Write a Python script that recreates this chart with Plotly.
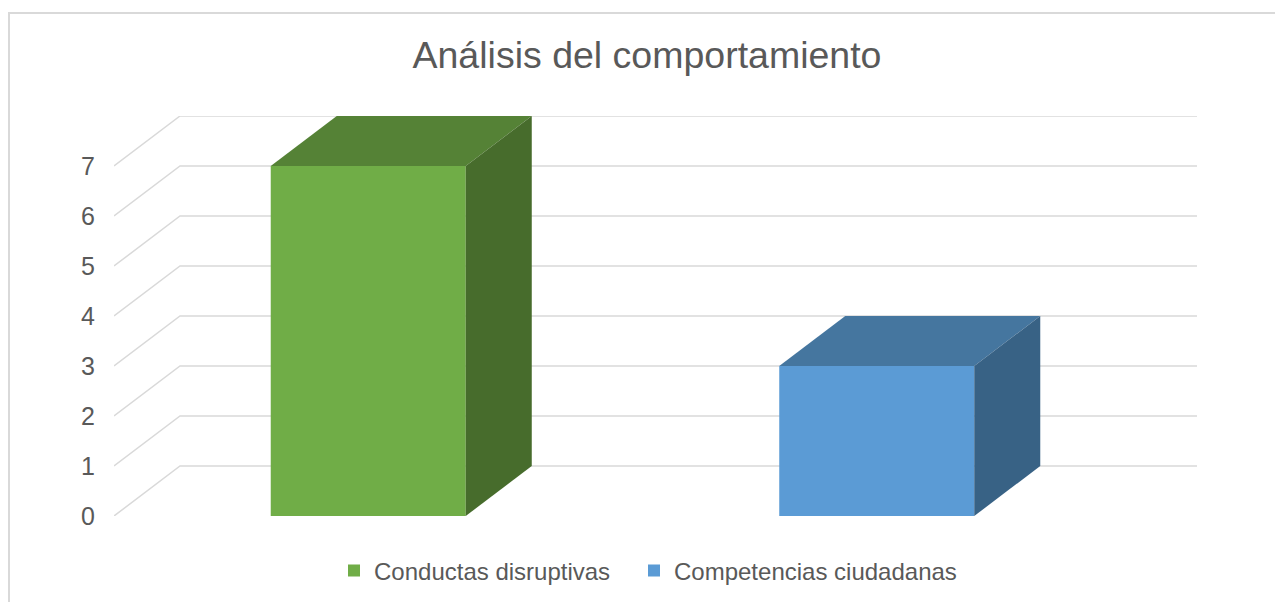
import plotly.graph_objects as go

# ---- data ----
categories = ["Conductas disruptivas", "Competencias ciudadanas"]
values = [7, 3]
tick_values = [0, 1, 2, 3, 4, 5, 6, 7]

# ---- style ----
front_colors = ["#70AD47", "#5B9BD5"]
top_colors = ["#558236", "#45769F"]
side_colors = ["#476C2C", "#386285"]
grid_color = "#D9D9D9"
text_color = "#595959"

bar_w = 0.3835          # bar width in category units
dx = 0.1298             # depth offset in category units
dy = 1.0                # depth offset in value units

fig = go.Figure()

# back wall + side-wall gridlines
gx, gy = [], []
for t in tick_values:
    gx += [-0.5, -0.5 + dx, 1.5 + dx, None]
    gy += [t, t + dy, t + dy, None]
fig.add_trace(go.Scatter(x=gx, y=gy, mode="lines",
                         line=dict(color=grid_color, width=1.5),
                         hoverinfo="skip", showlegend=False, cliponaxis=False))

# 3D bars
for i, (cat, v) in enumerate(zip(categories, values)):
    l, r = i - bar_w / 2, i + bar_w / 2
    # front
    fig.add_trace(go.Scatter(x=[l, r, r, l, l], y=[0, 0, v, v, 0], fill="toself",
                             fillcolor=front_colors[i], mode="lines", line=dict(width=0),
                             showlegend=False, hoverinfo="skip", cliponaxis=False))
    # top
    fig.add_trace(go.Scatter(x=[l, r, r + dx, l + dx, l], y=[v, v, v + dy, v + dy, v],
                             fill="toself", fillcolor=top_colors[i], mode="lines",
                             line=dict(width=0), showlegend=False, hoverinfo="skip",
                             cliponaxis=False))
    # side
    fig.add_trace(go.Scatter(x=[r, r + dx, r + dx, r, r], y=[0, dy, v + dy, v, 0],
                             fill="toself", fillcolor=side_colors[i], mode="lines",
                             line=dict(width=0), showlegend=False, hoverinfo="skip",
                             cliponaxis=False))

# legend entries
legend_widths = [255, None]
for i, cat in enumerate(categories):
    fig.add_trace(go.Scatter(x=[None], y=[None], mode="markers", name=cat,
                             legendwidth=legend_widths[i],
                             marker=dict(symbol="square", size=12, color=front_colors[i])))

# page has an 8px body margin: figure is offset by 8px inside the window
OFF = 8
W, H = 1283 - OFF, 602 - OFF
ml, mt = 114 - OFF, 116 - OFF
mr = W - (1197 - OFF)
mb = H - (516 - OFF)
pw, ph = W - ml - mr, H - mt - mb


def fx(px):
    return (px - OFF - ml) / pw


def fy(py):
    return (H - mb - (py - OFF)) / ph


fig.update_layout(
    width=W, height=H,
    margin=dict(l=ml, r=mr, t=mt, b=mb, autoexpand=False),
    paper_bgcolor="white", plot_bgcolor="white",
    font=dict(family="Liberation Sans, Arial, sans-serif", color=text_color, size=24),
    title=dict(text="Análisis del comportamiento", x=(647 - OFF) / W, xanchor="center",
               y=1 - (55 - OFF) / H, yanchor="middle",
               font=dict(size=37.5, color=text_color)),
    xaxis=dict(range=[-0.5, 1.5 + dx], showgrid=False, zeroline=False,
               showticklabels=False, showline=False, fixedrange=True),
    yaxis=dict(range=[0, 8], tickvals=tick_values, ticktext=[str(t) for t in tick_values],
               showgrid=False, zeroline=False, showline=False, ticks="",
               ticklabelstandoff=18, tickfont=dict(size=25, color=text_color)),
    legend=dict(orientation="h", x=fx(334), xanchor="left",
                y=fy(571), yanchor="middle",
                font=dict(size=24, color=text_color),
                bgcolor="rgba(0,0,0,0)"),
    showlegend=True,
    shapes=[dict(type="rect", xref="paper", yref="paper",
                 x0=fx(9), x1=fx(1320), y0=fy(640), y1=fy(13),
                 line=dict(color=grid_color, width=2), fillcolor="rgba(0,0,0,0)",
                 layer="below")],
)

fig.write_html("out.html")
